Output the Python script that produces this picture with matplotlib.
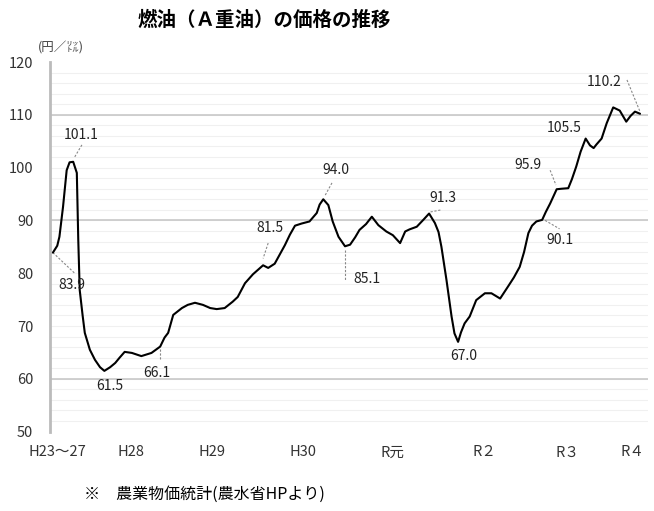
import matplotlib.pyplot as plt
import numpy as np

plt.rcParams['font.family'] = ['Noto Sans CJK JP', 'DejaVu Sans']

# A重油 price, yen per litre, position along the time axis in months
months = [0.0, 0.6, 0.9, 1.4, 1.9, 2.3, 2.8, 3.3, 3.5, 3.7, 4.1, 4.4, 5.1, 5.8,
          6.5, 7.1, 7.9, 8.6, 9.2, 9.9, 10.9, 12.2, 13.6, 14.8, 15.4, 15.9,
          16.6, 17.8, 18.6, 19.6, 20.7, 21.7, 22.6, 23.7, 24.8, 25.5, 26.5,
          27.6, 29.0, 29.7, 30.6, 32.0, 32.7, 33.4, 34.3, 35.4, 36.4, 36.8,
          37.3, 38.0, 38.6, 39.4, 40.3, 41.0, 41.7, 42.3, 43.2, 44.0, 44.9,
          46.0, 46.9, 47.9, 48.6, 49.2, 50.2, 51.1, 51.9, 52.7, 53.2, 53.6,
          54.3, 55.0, 55.4, 55.9, 56.3, 56.8, 57.5, 58.4, 59.6, 60.5, 61.7,
          62.8, 63.6, 64.4, 65.0, 65.6, 66.1, 66.7, 67.5, 68.0, 68.6, 69.5,
          70.2, 71.1, 71.6, 72.2, 72.8, 73.5, 74.1, 74.6, 75.0, 75.7, 76.4,
          77.3, 78.2, 79.1, 79.7, 80.3, 81.0]
price = [83.9, 85.2, 86.9, 92.6, 99.5, 101.0, 101.1, 99.0, 86.3, 76.8, 72.0,
         68.7, 65.5, 63.6, 62.2, 61.5, 62.2, 63.0, 64.0, 65.1, 64.9, 64.3,
         64.9, 66.1, 67.8, 68.7, 72.1, 73.4, 74.0, 74.4, 74.0, 73.4, 73.2,
         73.4, 74.6, 75.5, 78.1, 79.8, 81.5, 81.0, 81.8, 85.3, 87.3, 89.0,
         89.4, 89.8, 91.4, 93.0, 94.0, 92.9, 89.8, 86.9, 85.1, 85.4, 86.8,
         88.2, 89.3, 90.7, 89.1, 87.9, 87.2, 85.7, 87.9, 88.3, 88.8, 90.1,
         91.3, 89.5, 87.8, 85.0, 78.7, 71.8, 68.6, 67.0, 68.8, 70.5, 71.8,
         74.9, 76.2, 76.2, 75.2, 77.5, 79.2, 81.2, 84.0, 87.6, 89.0, 89.8,
         90.1, 91.6, 93.2, 95.9, 96.0, 96.1, 97.8, 100.2, 103.0, 105.5,
         104.2, 103.7, 104.4, 105.5, 108.4, 111.4, 110.8, 108.7, 109.8,
         110.6, 110.2]

period_labels = ['H23～27', 'H28', 'H29', 'H30', 'R元', 'R２', 'R３', 'R４']
period_pos = [0.55, 10.8, 21.9, 34.5, 46.9, 59.6, 71.0, 79.9]

# labelled points: (month, text position, leader start, leader end)
callouts = [
    (2.8, (3.9, 106.2), (4.0, 104.3), (3.0, 102.0)),
    (0.0, (2.6, 77.8), (0.0, 83.9), (3.0, 80.0)),
    (7.1, (7.9, 58.6), None, None),
    (14.8, (14.3, 61.1), (14.8, 65.6), (14.8, 63.6)),
    (29.0, (29.9, 88.6), (29.7, 85.7), (29.0, 82.8)),
    (37.3, (39.0, 99.5), (38.5, 97.1), (37.5, 94.6)),
    (40.3, (43.3, 78.9), (40.3, 84.4), (40.3, 78.5)),
    (51.9, (53.8, 94.2), (52.1, 91.6), (53.6, 92.0)),
    (55.9, (56.7, 64.3), None, None),
    (67.5, (69.9, 86.3), (67.9, 90.0), (69.9, 88.4)),
    (69.5, (65.5, 100.5), (68.6, 99.5), (69.4, 96.7)),
    (73.5, (70.6, 107.5), None, None),
    (81.0, (76.0, 116.2), (79.2, 116.6), (81.0, 110.6)),
]

fig = plt.figure(figsize=(6.54, 5.11), dpi=100)
ax = fig.add_axes([50 / 654, 1 - 431.6 / 511, 598 / 654, 369.6 / 511])

# grid: faint every 2 yen, firmer at a few levels
for v in np.arange(52, 120, 2):
    ax.axhline(v, color='#f0f0f0', lw=0.8, zorder=0)
for v in [60, 90, 110]:
    ax.axhline(v, color='#c8c8c8', lw=1.2, zorder=1)

ax.plot(months, price, color='black', lw=1.5, solid_joinstyle='round',
        solid_capstyle='round', zorder=3)

for m, txt_pos, l0, l1 in callouts:
    val = price[months.index(m)]
    ax.text(txt_pos[0], txt_pos[1], f'{val:.1f}', ha='center', va='center',
            fontsize=10, color='#222222', zorder=4)
    if l0 is not None:
        ax.plot([l0[0], l1[0]], [l0[1], l1[1]], color='#888888', lw=0.8,
                ls=(0, (2, 1.5)), zorder=2)

ax.set_xlim(-0.4, 82.1)
ax.set_ylim(50, 120)
ax.set_yticks(range(50, 121, 10))
ax.set_xticks(period_pos)
ax.set_xticklabels(period_labels)
ax.tick_params(axis='y', length=0, pad=12, labelsize=10.5, labelcolor='#333333')
ax.tick_params(axis='x', length=0, pad=10, labelsize=10.5, labelcolor='#333333')

for side in ['top', 'right', 'bottom']:
    ax.spines[side].set_visible(False)
ax.spines['left'].set_color('#bbbbbb')
ax.spines['left'].set_linewidth(2)

fig.text(264 / 654, 1 - 20 / 511, '燃油（Ａ重油）の価格の推移', ha='center',
         va='center', fontsize=14, fontweight='bold')
fig.text(38 / 654, 1 - 48 / 511, '(円／㍑)', ha='left', va='center',
         fontsize=9, color='#444444')
fig.text(84 / 654, 1 - 494 / 511, '※　農業物価統計(農水省HPより)', ha='left',
         va='center', fontsize=11.5)

fig.savefig('out.png', dpi=100, facecolor='white')
